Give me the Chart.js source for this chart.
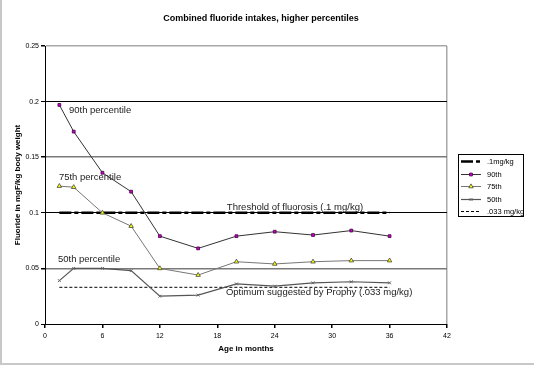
<!DOCTYPE html>
<html>
<head>
<meta charset="utf-8">
<script src="https://cdn.jsdelivr.net/npm/chart.js@4/dist/chart.umd.min.js"></script>
<style>
  html, body { margin: 0; padding: 0; background: #fff; }
  #wrap { width: 534px; height: 366px; }
</style>
</head>
<body>
<div id="wrap"><canvas id="fluorideChart" width="534" height="366"></canvas></div>
<script>
// ages in months and percentile intakes (mgF/kg body weight)
const ages = [1.5, 3, 6, 9, 12, 16, 20, 24, 28, 32, 36];
const p90 = [0.197, 0.173, 0.136, 0.119, 0.079, 0.068, 0.079, 0.083, 0.080, 0.084, 0.079];
const p75 = [0.124, 0.123, 0.100, 0.088, 0.050, 0.044, 0.056, 0.054, 0.056, 0.057, 0.057];
const p50 = [0.039, 0.050, 0.050, 0.048, 0.025, 0.026, 0.036, 0.034, 0.037, 0.038, 0.037];

// reference lines
const refAges = [1.5, 36];
const threshold = [0.1, 0.1];
const optimum = [0.033, 0.033];

const seriesLabels = ['.1mg/kg', '90th', '75th', '50th', '.033 mg/kg'];

// notes written on the plot, placed in data units
const notes = [
  { text: '90th percentile', x: 2.5, y: 0.192 },
  { text: '75th percentile', x: 1.45, y: 0.132 },
  { text: 'Threshold of fluorosis (.1 mg/kg)', x: 19.0, y: 0.105 },
  { text: '50th percentile', x: 1.35, y: 0.0585 },
  { text: 'Optimum suggested by Prophy (.033 mg/kg)', x: 18.9, y: 0.028 }
];

const toPoints = (xs, ys) => xs.map((x, i) => ({ x: x, y: ys[i] }));
const FONT = 'Arial, "Liberation Sans", sans-serif';
Chart.defaults.font.family = FONT;
Chart.defaults.color = '#000';

const pct = v => Math.round(v * 100);

// background, outer frame, title, notes and the boxed legend
const decorations = {
  id: 'decorations',
  beforeDraw(chart) {
    const c = chart.ctx;
    c.save();
    c.fillStyle = '#fff';
    c.fillRect(0, 0, chart.width, chart.height);
    c.strokeStyle = '#c8c8c8';
    c.lineWidth = 2;
    c.beginPath();
    c.moveTo(1, 0);
    c.lineTo(1, 364);
    c.lineTo(chart.width, 364);
    c.stroke();
    c.restore();
  },
  afterDraw(chart) {
    const c = chart.ctx;
    const xs = chart.scales.x, ys = chart.scales.y;
    c.save();
    c.fillStyle = '#000';
    c.font = 'bold 9px ' + FONT;
    c.textAlign = 'center';
    c.textBaseline = 'middle';
    c.fillText('Combined fluoride intakes, higher percentiles', 261, 19);

    c.font = '9.5px ' + FONT;
    c.fillStyle = '#222';
    c.textAlign = 'left';
    notes.forEach(n => c.fillText(n.text, xs.getPixelForValue(n.x), ys.getPixelForValue(n.y)));

    // legend
    const box = { x: 458, y: 154, w: 65, h: 62 };
    c.fillStyle = '#fff';
    c.fillRect(box.x, box.y, box.w, box.h);
    c.strokeStyle = '#000';
    c.lineWidth = 1;
    c.setLineDash([]);
    c.strokeRect(box.x + 0.5, box.y + 0.5, box.w, box.h);
    chart.data.datasets.forEach((ds, i) => {
      const y = Math.round(box.y + 7 + i * 12.6) + 0.5;
      c.save();
      c.strokeStyle = ds.borderColor;
      c.lineWidth = ds.borderWidth;
      c.setLineDash(ds.borderDash || []);
      c.beginPath();
      c.moveTo(461, y);
      c.lineTo(481, y);
      c.stroke();
      c.restore();
      if (ds.pointRadius > 0 && Chart.helpers && Chart.helpers.drawPoint) {
        c.save();
        c.fillStyle = ds.pointBackgroundColor;
        c.strokeStyle = ds.pointBorderColor;
        c.lineWidth = ds.pointBorderWidth;
        Chart.helpers.drawPoint(c, { pointStyle: ds.pointStyle, radius: ds.pointRadius, rotation: 0, borderWidth: ds.pointBorderWidth }, 471, y);
        c.restore();
      }
      c.fillStyle = '#000';
      c.font = '7.5px ' + FONT;
      c.textAlign = 'left';
      c.textBaseline = 'middle';
      c.fillText(ds.label, 487, y);
    });
    c.restore();
  }
};

new Chart(document.getElementById('fluorideChart'), {
  type: 'line',
  data: {
    datasets: [
      {
        label: seriesLabels[0],
        data: toPoints(refAges, threshold),
        borderColor: '#000',
        borderWidth: 2.5,
        borderDash: [12, 3, 4, 3],
        pointRadius: 0,
        order: 5
      },
      {
        label: seriesLabels[1],
        data: toPoints(ages, p90),
        borderColor: '#333',
        borderWidth: 1,
        pointStyle: 'rect',
        pointRadius: 2,
        pointBackgroundColor: '#cc00cc',
        pointBorderColor: '#400040',
        pointBorderWidth: 0.8,
        order: 2
      },
      {
        label: seriesLabels[2],
        data: toPoints(ages, p75),
        borderColor: '#777',
        borderWidth: 1,
        pointStyle: 'triangle',
        pointRadius: 2.6,
        pointBackgroundColor: '#ffff00',
        pointBorderColor: '#444',
        pointBorderWidth: 0.8,
        order: 1
      },
      {
        label: seriesLabels[3],
        data: toPoints(ages, p50),
        borderColor: '#555',
        borderWidth: 1.2,
        pointStyle: 'crossRot',
        pointRadius: 2,
        pointBackgroundColor: '#666',
        pointBorderColor: '#666',
        pointBorderWidth: 1,
        order: 3
      },
      {
        label: seriesLabels[4],
        data: toPoints(refAges, optimum),
        borderColor: '#000',
        borderWidth: 1,
        borderDash: [3, 2],
        pointRadius: 0,
        order: 4
      }
    ]
  },
  options: {
    responsive: false,
    animation: false,
    events: [],
    layout: { padding: { top: 46, right: 87, left: 0, bottom: 0 } },
    plugins: {
      legend: { display: false },
      title: { display: false },
      tooltip: { enabled: false }
    },
    scales: {
      x: {
        type: 'linear',
        min: 0,
        max: 42,
        afterFit: s => { s.height = 42; },
        ticks: { stepSize: 6, padding: 4, font: { size: 7 }, maxRotation: 0 },
        grid: {
          color: ctx => (ctx.tick && ctx.tick.value === 42 ? '#a8a8a8' : 'rgba(0,0,0,0)'),
          tickColor: '#000',
          tickLength: 4,
          lineWidth: 1.5
        },
        border: { color: '#000', width: 1 },
        title: {
          display: true,
          text: 'Age in months',
          font: { size: 8, weight: 'bold' },
          padding: { top: 0, bottom: 12 }
        }
      },
      y: {
        min: 0,
        max: 0.25,
        afterFit: s => { s.width = 45; },
        ticks: {
          stepSize: 0.05,
          padding: 2,
          font: { size: 7 },
          callback: v => String(pct(v) / 100)
        },
        grid: {
          color: ctx => {
            const p = ctx.tick ? pct(ctx.tick.value) : 0;
            if (p === 25) return '#a8a8a8';
            if (p === 5 || p === 15) return '#7a7a7a';
            return '#000';
          },
          lineWidth: ctx => {
            const p = ctx.tick ? pct(ctx.tick.value) : 0;
            return (p === 5 || p === 15 || p === 25) ? 1.5 : 1;
          },
          tickColor: '#000',
          tickLength: 4
        },
        border: { color: '#000', width: 1 },
        title: {
          display: true,
          text: 'Fluoride in mgF/kg body weight',
          font: { size: 8, weight: 'bold' },
          padding: { top: 13, bottom: 0 }
        }
      }
    }
  },
  plugins: [decorations]
});
</script>
</body>
</html>
